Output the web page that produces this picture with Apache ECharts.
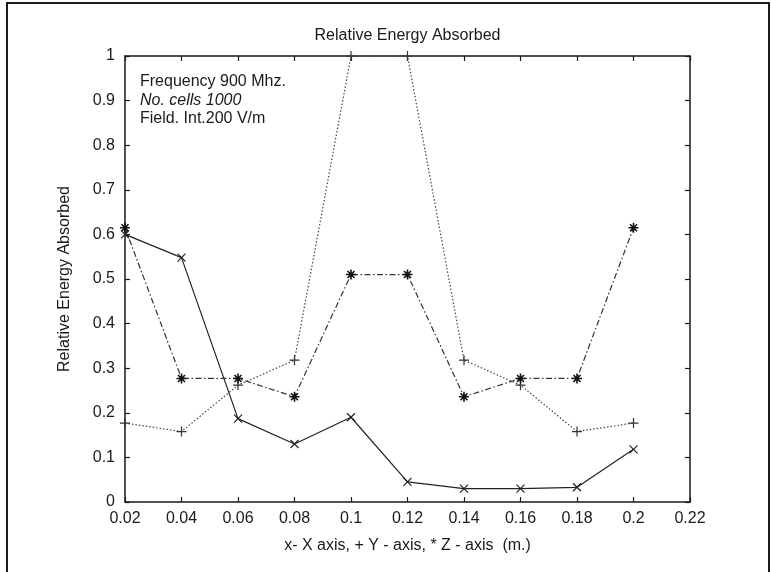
<!DOCTYPE html>
<html>
<head>
<meta charset="utf-8">
<script src="https://cdn.jsdelivr.net/npm/echarts@6/dist/echarts.min.js"></script>
<style>
  html, body { margin: 0; padding: 0; background: #fff; }
  #chart { width: 771px; height: 572px; }
</style>
</head>
<body>
<div id="chart"></div>
<script>
// Positions along the line (m.)
const positions = [0.02, 0.04, 0.06, 0.08, 0.10, 0.12, 0.14, 0.16, 0.18, 0.20];

// Relative energy absorbed for each orientation
const xAxisValues = [0.600, 0.548, 0.187, 0.130, 0.190, 0.045, 0.030, 0.030, 0.033, 0.118];
const yAxisValues = [0.177, 0.158, 0.262, 0.318, 1.000, 1.000, 0.318, 0.262, 0.158, 0.177];
const zAxisValues = [0.615, 0.277, 0.277, 0.236, 0.510, 0.510, 0.236, 0.277, 0.277, 0.615];

// Annotation lines
const infoLines = ['Frequency 900 Mhz.', 'No. cells 1000', 'Field. Int.200 V/m'];

const FONT = '"Liberation Sans", Arial, sans-serif';
const INK = '#1a1a1a';

const pair = (xs, ys) => xs.map((x, i) => [x, ys[i]]);

// Stroke-only marker shapes: x, + and *
const SYM_X = 'path://M0,0L10,10M10,0L0,10';
const SYM_PLUS = 'path://M5,0L5,10M0,5L10,5';
const SYM_STAR = 'path://M5,0L5,10M0,5L10,5M1.5,1.5L8.5,8.5M8.5,1.5L1.5,8.5';

const fmt = v => String(parseFloat(v.toFixed(2)));

const chart = echarts.init(document.getElementById('chart'), null, { renderer: 'canvas' });

// Boxed axes with inward ticks on all four sides
const axisCommon = {
  axisLine: { show: true, onZero: false, lineStyle: { color: INK, width: 1.5 } },
  axisTick: { show: true, inside: true, length: 5, lineStyle: { color: INK, width: 1.2 } },
  splitLine: { show: false }
};

chart.setOption({
  animation: false,
  backgroundColor: '#fff',
  textStyle: { fontFamily: FONT },
  grid: { left: 125, right: 81, top: 56, bottom: 70, containLabel: false },
  xAxis: [
    Object.assign({
      type: 'value', min: 0.02, max: 0.22, interval: 0.02, position: 'bottom',
      name: 'x- X axis, + Y - axis, * Z - axis  (m.)',
      nameLocation: 'middle', nameGap: 36,
      nameTextStyle: { fontFamily: FONT, fontSize: 16, color: INK },
      axisLabel: { formatter: fmt, margin: 9, fontFamily: FONT, fontSize: 16, color: INK }
    }, axisCommon),
    Object.assign({
      type: 'value', min: 0.02, max: 0.22, interval: 0.02, position: 'top',
      axisLabel: { show: false }
    }, axisCommon)
  ],
  yAxis: [
    Object.assign({
      type: 'value', min: 0, max: 1, interval: 0.1, position: 'left',
      name: 'Relative Energy Absorbed',
      nameLocation: 'middle', nameGap: 52, nameRotate: 90,
      nameTextStyle: { fontFamily: FONT, fontSize: 16, color: INK },
      axisLabel: { formatter: fmt, margin: 10, fontFamily: FONT, fontSize: 16, color: INK }
    }, axisCommon),
    Object.assign({
      type: 'value', min: 0, max: 1, interval: 0.1, position: 'right',
      axisLabel: { show: false }
    }, axisCommon)
  ],
  graphic: [
    {
      type: 'text', x: 407.5, y: 36,
      style: { text: 'Relative Energy Absorbed', font: '16px ' + FONT, fill: INK, textAlign: 'center', textVerticalAlign: 'middle' }
    },
    {
      type: 'text', x: 140, y: 82,
      style: { text: infoLines[0], font: '16px ' + FONT, fill: INK, textVerticalAlign: 'middle' }
    },
    {
      type: 'text', x: 140, y: 101,
      style: { text: infoLines[1], font: 'italic 16px ' + FONT, fill: INK, textVerticalAlign: 'middle' }
    },
    {
      type: 'text', x: 140, y: 119,
      style: { text: infoLines[2], font: '16px ' + FONT, fill: INK, textVerticalAlign: 'middle' }
    },
    {
      // page frame
      type: 'polyline',
      shape: { points: [[7, 572], [7, 3], [769, 3], [769, 572]] },
      style: { stroke: INK, lineWidth: 2, fill: 'none' }
    }
  ],
  series: [
    {
      name: 'X', type: 'line', data: pair(positions, xAxisValues),
      symbol: SYM_X, symbolSize: 8, clip: true,
      lineStyle: { color: '#222', width: 1.2, type: 'solid' },
      itemStyle: { color: 'none', borderColor: '#222', borderWidth: 1.2 }
    },
    {
      name: 'Y', type: 'line', data: pair(positions, yAxisValues),
      symbol: SYM_PLUS, symbolSize: 10, clip: true,
      lineStyle: { color: '#444', width: 1.2, type: [1.5, 2] },
      itemStyle: { color: 'none', borderColor: '#333', borderWidth: 1.2 }
    },
    {
      name: 'Z', type: 'line', data: pair(positions, zAxisValues),
      symbol: SYM_STAR, symbolSize: 10, clip: true,
      lineStyle: { color: '#333', width: 1.2, type: [6, 2.5, 1.5, 2.5] },
      itemStyle: { color: 'none', borderColor: '#111', borderWidth: 1.6 }
    }
  ]
});
</script>
</body>
</html>
